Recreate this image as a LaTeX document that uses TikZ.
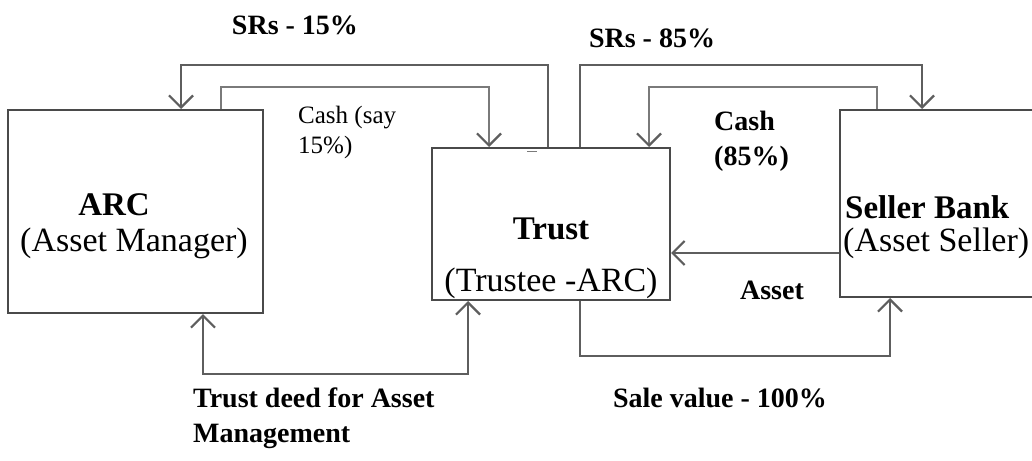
\documentclass[tikz,border=0pt]{standalone}
\usepackage{fontspec}
\setmainfont{Liberation Serif}
\usetikzlibrary{arrows.meta}
\definecolor{boxgray}{HTML}{4A4A4A}
\definecolor{linegray}{HTML}{5E5E5E}
\definecolor{thingray}{HTML}{7A7A7A}
\tikzset{
  box/.style={draw=boxgray, line width=2pt, rectangle, inner sep=0pt},
  flow/.style={draw=linegray, line width=2.2pt, -{Straight Barb[length=12pt,width=24pt]}},
  thinflow/.style={draw=thingray, line width=1.4pt, -{Straight Barb[length=12pt,width=24pt,line width=2.2pt,color=linegray]}},
  boxtext/.style={font=\fontsize{34}{40}\selectfont, inner sep=0pt},
  boxbold/.style={font=\fontsize{33}{40}\selectfont\bfseries, inner sep=0pt},
  lbl/.style={font=\fontsize{28}{35}\selectfont\bfseries, inner sep=0pt, align=left},
  smalllbl/.style={font=\fontsize{25}{30}\selectfont, inner sep=0pt, align=left}
}
\begin{document}
\begin{tikzpicture}[x=1pt,y=-1pt]
\useasboundingbox (0,0) rectangle (1032,460);
\clip (0,0) rectangle (1032,460);
% boxes
\node[box, minimum width=255pt, minimum height=203pt] (arc) at (135.5,211.5) {};
\node[box, minimum width=238pt, minimum height=152pt] (trust) at (551,224) {};
\node[box, minimum width=200pt, minimum height=187pt] (seller) at (940,203.5) {};
% box texts
\node[boxbold] (arct) at (114,205) {ARC};
\node[boxtext] (arcs) at (134,243) {(Asset Manager)};
\node[boxbold] (trt) at (551,229) {Trust};
\node[boxtext] (trs) at (551,283) {(Trustee -ARC)};
\node[boxbold, anchor=west] (selt) at (845,207) {Seller Bank};
\node[boxtext, anchor=west] (sels) at (843,243) {(Asset Seller)};
% connectors
\draw[flow] ([xshift=-3pt]trust.north) -- ++(0,-82) -| ([xshift=45.5pt]arc.north);
\draw[thinflow] ([xshift=85.5pt]arc.north) -- ++(0,-22) -| ([xshift=-62pt]trust.north);
\draw[flow] ([xshift=29pt]trust.north) -- ++(0,-82) -| ([xshift=-18pt]seller.north);
\draw[thinflow] ([xshift=-63pt]seller.north) -- ++(0,-22) -| ([xshift=98pt]trust.north);
\draw[flow] ([yshift=-49.5pt]seller.west) -- ([yshift=-29pt]trust.east);
\draw[flow] ([xshift=29pt]trust.south) -- ++(0,55) -| ([xshift=-50pt]seller.south);
\draw[flow, {Straight Barb[length=12pt,width=24pt]}-{Straight Barb[length=12pt,width=24pt]}] ([xshift=67.5pt]arc.south) -- ++(0,60) -| ([xshift=-83pt]trust.south);
% small mark
\draw[thingray, line width=1pt] ([xshift=-24pt,yshift=-4pt]trust.north) -- ([xshift=-14pt,yshift=-4pt]trust.north);
% labels
\node[lbl] (l1) at (295,25) {SRs - 15\%};
\node[lbl] (l2) at (652,38) {SRs - 85\%};
\node[smalllbl, anchor=north west] (l3) at (298,106) {Cash (say\\15\%)};
\node[lbl, anchor=north west] (l4) at (714,111) {Cash\\(85\%)};
\node[lbl] (l5) at (772,290) {Asset};
\node[lbl] (l6) at (720,398) {Sale value - 100\%};
\node[lbl, anchor=north west] (l7) at (193,388) {Trust deed for Asset\\Management};
\end{tikzpicture}
\end{document}
